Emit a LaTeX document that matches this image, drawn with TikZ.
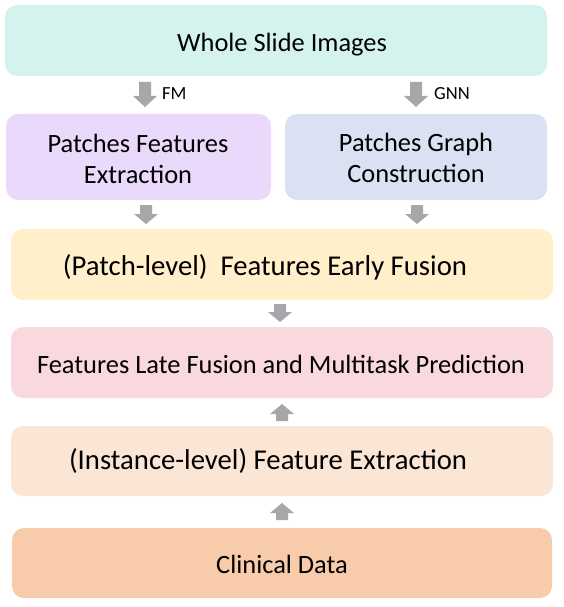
\documentclass[tikz,border=0pt]{standalone}
\usepackage{fontspec}
\setmainfont{Carlito}
\usetikzlibrary{positioning}
\definecolor{cwsi}{HTML}{D4F3EF}
\definecolor{cpfe}{HTML}{EBD9FB}
\definecolor{cpgc}{HTML}{DAE1F3}
\definecolor{cefu}{HTML}{FFF0CB}
\definecolor{clfu}{HTML}{F9D9DD}
\definecolor{cins}{HTML}{FBE5D5}
\definecolor{ccli}{HTML}{F8CCAA}
\definecolor{carr}{HTML}{A7A6AA}
\tikzset{
  box/.style={rounded corners=12pt, draw=none},
  lbl/.style={font=\fontsize{26.4}{31}\selectfont, align=center, inner sep=0pt},
  lblbig/.style={font=\fontsize{28.7}{33}\selectfont, align=center, inner sep=0pt},
  small/.style={font=\fontsize{18.5}{20}\selectfont, inner sep=0pt, anchor=west},
  blk/.style={fill=carr, draw=none}
}
% block arrow: #1 = center x, #2 = tail y, #3 = tip y  (y measured downward in px)
\newcommand{\blkarrowdown}[3]{%
  \fill[carr] (#1-6,-#2) -- (#1+6,-#2) -- (#1+6,-#3+11) -- (#1+12,-#3+11) -- (#1,-#3) -- (#1-12,-#3+11) -- (#1-6,-#3+11) -- cycle;}
\newcommand{\blkarrowdownshort}[3]{%
  \fill[carr] (#1-6,-#2) -- (#1+6,-#2) -- (#1+6,-#3+10) -- (#1+12,-#3+10) -- (#1,-#3) -- (#1-12,-#3+10) -- (#1-6,-#3+10) -- cycle;}
\newcommand{\blkarrowup}[3]{%
  \fill[carr] (#1-6,-#2) -- (#1+6,-#2) -- (#1+6,-#3-10) -- (#1+12,-#3-10) -- (#1,-#3) -- (#1-12,-#3-10) -- (#1-6,-#3-10) -- cycle;}
\begin{document}
\begin{tikzpicture}[x=1pt,y=1pt]
\useasboundingbox (0,0) rectangle (563,-607);
% boxes
\fill[box, cwsi] (5,-5) rectangle (547,-76);
\fill[box, cpfe] (6,-114) rectangle (271,-200);
\fill[box, cpgc] (285,-114) rectangle (547,-200);
\fill[box, cefu] (11,-229) rectangle (553,-300);
\fill[box, clfu] (11,-327) rectangle (553,-398);
\fill[box, cins] (11,-426) rectangle (553,-496);
\fill[box, ccli] (12,-528) rectangle (552,-598);
% texts
\node[lbl] (wsi) at (282,-45) {Whole Slide Images};
\node[lbl] (pfe) at (138,-159) {Patches Features\\Extraction};
\node[lbl] (pgc) at (416,-158) {Patches Graph\\Construction};
\node[lblbig] (efu) at (265,-267) {(Patch-level)\ \ Features Early Fusion};
\node[lbl] (lfu) at (281,-364) {Features Late Fusion and Multitask Prediction};
\node[lblbig] (ins) at (268,-461) {(Instance-level) Feature Extraction};
\node[lbl] (cli) at (282,-564) {Clinical Data};
% arrows
\blkarrowdown{145}{82}{107}
\blkarrowdown{416}{82}{107}
\node[small] (fm) at (162,-94) {FM};
\node[small] (gnn) at (434,-94) {GNN};
\blkarrowdownshort{146}{205}{224}
\blkarrowdownshort{417}{205}{224}
\blkarrowdownshort{280}{304}{322}
\blkarrowup{282}{421}{404}
\blkarrowup{282}{520}{503}
\end{tikzpicture}
\end{document}
